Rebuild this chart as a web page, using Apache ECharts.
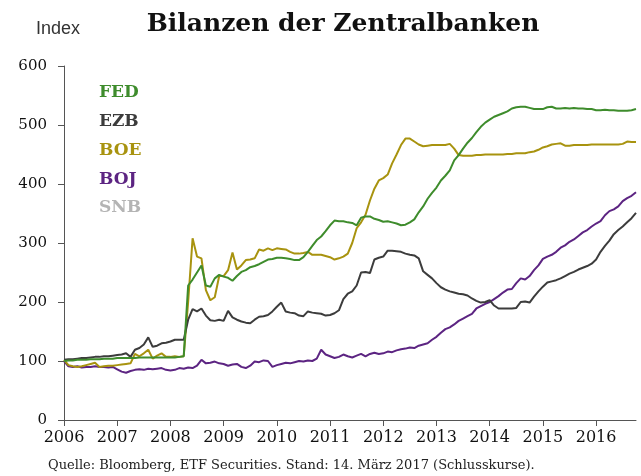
<!DOCTYPE html>
<html>
<head>
<meta charset="utf-8">
<script src="https://cdn.jsdelivr.net/npm/echarts@6/dist/echarts.min.js"></script>
<style>html,body{margin:0;padding:0;background:#fff;}#c{width:641px;height:476px;}</style>
</head>
<body>
<div id="c"></div>
<script>
// Monthly categories Jan 2006 .. Oct 2016
const startYear = 2006, endYear = 2016, endMonth = 10;
const categories = [];
for (let y = startYear; y <= endYear; y++) {
  for (let m = 1; m <= 12; m++) {
    if (y === endYear && m > endMonth) break;
    categories.push(y + '-' + (m < 10 ? '0' + m : m));
  }
}
const yTicks = [0, 100, 200, 300, 400, 500, 600];

const FED = [
  100,101,101,102,102,102,103,103,103,104,104,104,
  105,105,105,105,105,106,106,106,106,106,106,106,
  106,106,107,108,228,238,250,262,228,226,240,246,
  243,241,236,244,251,254,259,261,264,268,272,273,
  275,275,274,273,271,271,276,285,295,305,311,320,
  330,338,337,337,335,334,330,343,345,345,341,339,
  336,337,335,333,330,331,335,340,352,362,375,385,
  394,406,414,423,440,449,460,470,478,488,497,504,
  509,514,517,520,523,528,530,531,531,529,527,527,
  527,530,531,528,528,529,528,529,528,528,527,527,
  525,525,526,525,525,524,524,524,525,527
];
const EZB = [
  102,103,103,104,105,105,106,107,107,108,108,109,
  110,111,113,107,119,122,128,140,124,126,130,131,
  133,136,136,136,170,188,184,189,177,169,168,170,
  168,185,174,170,167,165,164,170,175,176,178,184,
  192,199,184,182,181,177,176,184,182,181,180,177,
  178,181,186,205,214,218,228,250,251,249,272,275,
  277,287,287,286,285,282,280,279,274,252,246,240,
  232,225,221,218,216,214,213,211,206,202,199,200,
  203,194,189,189,189,189,190,200,201,199,209,218,
  226,233,235,237,240,244,248,251,255,258,261,265,
  272,285,295,304,315,322,328,335,342,351
];
const BOE = [
  102,93,91,90,91,93,95,97,90,91,92,92,
  93,94,95,96,112,108,113,119,104,109,113,107,
  107,108,107,108,200,308,277,274,220,203,208,244,
  244,254,284,255,262,271,272,274,289,287,291,288,
  291,290,289,285,282,282,283,285,280,280,280,278,
  276,272,274,277,282,300,325,335,348,372,392,406,
  410,416,435,450,466,477,477,472,467,464,465,466,
  466,466,466,468,460,449,448,448,448,449,449,450,
  450,450,450,450,451,451,452,452,452,454,455,458,
  462,464,467,468,469,465,465,466,466,466,466,467,
  467,467,467,467,467,467,468,472,471,471
];
const BOJ = [
  100,91,90,91,89,90,90,91,90,90,89,90,
  86,82,80,83,85,86,85,87,86,87,88,85,
  84,85,88,87,89,88,92,102,96,97,99,96,
  95,92,94,95,90,88,92,99,98,101,100,90,
  93,95,97,96,98,100,99,101,100,104,119,111,
  108,105,107,111,108,106,109,112,108,112,114,112,
  113,116,115,118,120,121,123,122,126,128,130,136,
  141,148,154,157,162,168,172,176,180,189,193,197,
  200,205,210,216,221,222,232,240,238,244,254,262,
  273,277,280,285,292,296,302,306,312,318,322,328,
  333,337,347,354,357,362,371,376,380,386
];
const SNB = [];

const seriesNames = ['FED', 'EZB', 'BOE', 'BOJ', 'SNB'];
const seriesData = [FED, EZB, BOE, BOJ, SNB];
const colors = ['#3e8c2c', '#3c3c3c', '#a8930f', '#5c2482', '#b4b4b4'];

const chart = echarts.init(document.getElementById('c'), null, {renderer: 'canvas'});
const axisColor = '#555';
chart.setOption({
  animation: false,
  backgroundColor: '#fff',
  grid: {left: 64, right: 5, top: 66, bottom: 56, containLabel: false},
  graphic: [
    {type: 'text', left: 36, top: 20, style: {text: 'Index', font: '18px "Liberation Sans", Arial, sans-serif', fill: '#333'}},
    {type: 'text', x: 343, y: 24, style: {text: 'Bilanzen der Zentralbanken', font: 'bold 25px "DejaVu Serif", serif', fill: '#111', textAlign: 'center', textVerticalAlign: 'middle'}},
    {type: 'text', x: 48, y: 466, style: {text: 'Quelle: Bloomberg, ETF Securities. Stand: 14. März 2017 (Schlusskurse).', font: '13px "DejaVu Serif", serif', fill: '#222', textVerticalAlign: 'middle'}}
  ],
  legend: {
    orient: 'vertical', left: 94, top: 79, itemWidth: 0, itemHeight: 0, itemGap: 10.7,
    selectedMode: false,
    data: seriesNames.map((n, i) => ({name: n, icon: 'rect', itemStyle: {opacity: 0}, textStyle: {color: colors[i]}})),
    textStyle: {fontFamily: '"DejaVu Serif", serif', fontWeight: 'bold', fontSize: 17, padding: [0, 0, 0, -5], lineHeight: 18}
  },
  xAxis: {
    type: 'category', data: categories, boundaryGap: false,
    axisLine: {lineStyle: {color: axisColor, width: 1}},
    axisTick: {show: true, length: 6, lineStyle: {color: axisColor}, interval: (i, v) => v.endsWith('-01')},
    axisLabel: {interval: (i, v) => v.endsWith('-01'), formatter: v => v.slice(0, 4), margin: 10,
      fontFamily: '"DejaVu Serif", serif', fontSize: 16, color: '#111'},
    splitLine: {show: false}
  },
  yAxis: {
    type: 'value', min: yTicks[0], max: yTicks[yTicks.length - 1], interval: 100,
    axisLine: {show: true, lineStyle: {color: axisColor, width: 1}},
    axisTick: {show: true, length: 6, lineStyle: {color: axisColor}},
    axisLabel: {margin: 17, fontFamily: '"DejaVu Serif", serif', fontSize: 15, color: '#111'},
    splitLine: {show: false}
  },
  series: seriesNames.map((n, i) => ({
    name: n, type: 'line', data: seriesData[i], showSymbol: false, symbol: 'none',
    lineStyle: {color: colors[i], width: 2}, itemStyle: {color: colors[i]}, z: 5 - i
  }))
});
</script>
</body>
</html>
